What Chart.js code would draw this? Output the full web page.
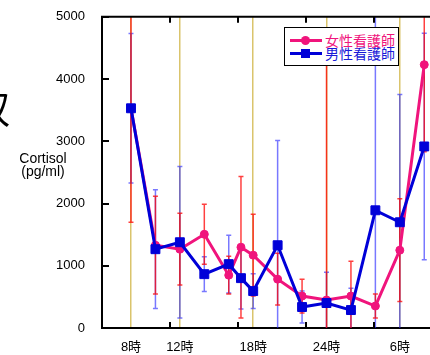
<!DOCTYPE html>
<html>
<head>
<meta charset="utf-8">
<script src="https://cdn.jsdelivr.net/npm/chart.js@4.4.0/dist/chart.umd.min.js"></script>
<style>
  body { margin: 0; background: #fff; overflow: hidden; }
  #wrap { position: relative; width: 430px; height: 355px; overflow: hidden; }
  #big { position: absolute; left: -28px; top: 88px; font: 38px/38px "Noto Sans CJK JP"; color: #000; }
  #ytitle { position: absolute; left: 13px; top: 152px; width: 60px; text-align: center;
    font: 14px/13px "Liberation Sans", Arial, sans-serif; color: #000; }
  #legend { position: absolute; left: 284px; top: 27px; width: 113px; height: 37px;
    border: 1px solid #000; background: #fff; font: 14px/13px "Noto Sans CJK JP"; }
  #legend .row { position: absolute; left: 0; height: 13px; width: 113px; }
  #legend .ln { position: absolute; left: 5px; top: 5px; width: 32px; height: 3px; }
  #legend .mk { position: absolute; left: 16px; top: 2px; width: 9px; height: 9px; }
  #legend .txt { position: absolute; left: 40px; top: 0; white-space: nowrap; }
</style>
</head>
<body>
<div id="wrap">
  <canvas id="myChart" width="430" height="355"></canvas>
  <div id="big">収</div>
  <div id="ytitle">Cortisol<br>(pg/ml)</div>
  <div id="legend">
    <div class="row" style="top:6px">
      <i class="ln" style="background:#f0147c"></i>
      <i class="mk" style="background:#f0147c;border-radius:50%"></i>
      <span class="txt" style="color:#f0147c">女性看護師</span>
    </div>
    <div class="row" style="top:19px">
      <i class="ln" style="background:#0000d8"></i>
      <i class="mk" style="background:#0000d8"></i>
      <span class="txt" style="color:#1a1ad8">男性看護師</span>
    </div>
  </div>
</div>
<script>
// sampling times (hours from 0時 of day 1; 32 = 8時 next day)
const hours = [8, 10, 12, 14, 16, 17, 18, 20, 22, 24, 26, 28, 30, 32];
const timeTicks = [8, 12, 18, 24, 30];
const timeLabels = ["8時", "12時", "18時", "24時", "6時"];
const yTicks = [0, 1000, 2000, 3000, 4000, 5000];

// 女性看護師
const femaleMean = [3530, 1330, 1266, 1506, 849, 1298, 1170, 785, 513, 449, 513, 353, 1250, 4231];
const femaleSd = [1830, 785, 577, 481, 304, 1138, 657, 416, 272, 4050, 561, 192, 825, 1400];
// 男性看護師
const maleMean = [3530, 1266, 1378, 865, 1026, 801, 593, 1330, 337, 401, 288, 1891, 1699, 2917];
const maleSd = [1200, 954, 1218, 280, 465, 497, 280, 1683, 257, 496, 350, 3300, 2051, 1819];

const pink = "#f0147c";
const blue = "#0000d8";
const gold = "rgb(218,196,108)";

// x range / inner tick spacing in hours (axis frame)
const xMin = 5.627;
const xMax = 32.47;
const frameStep = 5.565;

const errorBars = {
  id: "errorBars",
  beforeDatasetsDraw(chart) {
    const { ctx, chartArea, scales } = chart;
    const x = scales.x, y = scales.y;
    ctx.save();
    ctx.beginPath();
    ctx.rect(chartArea.left, chartArea.top, chartArea.width, chartArea.height);
    ctx.clip();
    chart.data.datasets.slice().reverse().forEach((ds) => {
      ctx.strokeStyle = ds.errColor;
      ctx.lineWidth = 1.5;
      ds.data.forEach((p, i) => {
        const px = x.getPixelForValue(p.x);
        const top = y.getPixelForValue(p.y + ds.sd[i]);
        const bot = y.getPixelForValue(p.y - ds.sd[i]);
        ctx.beginPath();
        ctx.moveTo(px, top);
        ctx.lineTo(px, bot);
        ctx.moveTo(px - 2.5, top);
        ctx.lineTo(px + 2.5, top);
        ctx.moveTo(px - 2.5, bot);
        ctx.lineTo(px + 2.5, bot);
        ctx.stroke();
      });
    });
    ctx.restore();
  },
};

// frame: top line and inward tick marks
const frame = {
  id: "frame",
  afterDraw(chart) {
    const { ctx, chartArea, scales } = chart;
    const x = scales.x, y = scales.y;
    ctx.save();
    ctx.strokeStyle = "#000";
    ctx.lineWidth = 2;
    ctx.beginPath();
    ctx.moveTo(chartArea.left - 1, chartArea.top);
    ctx.lineTo(chartArea.right, chartArea.top);
    for (let v = xMin + frameStep; v < xMax; v += frameStep) {
      const px = Math.round(x.getPixelForValue(v));
      ctx.moveTo(px, chartArea.top);
      ctx.lineTo(px, chartArea.top + 6);
      ctx.moveTo(px, chartArea.bottom);
      ctx.lineTo(px, chartArea.bottom - 6);
    }
    yTicks.forEach((v) => {
      const py = Math.round(y.getPixelForValue(v));
      ctx.moveTo(chartArea.left, py);
      ctx.lineTo(chartArea.left + 7, py);
    });
    ctx.stroke();
    ctx.restore();
  },
};

const ctx = document.getElementById("myChart");
new Chart(ctx, {
  type: "line",
  data: {
    datasets: [
      {
        label: "女性看護師",
        data: hours.map((h, i) => ({ x: h, y: femaleMean[i] })),
        sd: femaleSd,
        errColor: "rgba(255,0,0,0.75)",
        borderColor: pink,
        backgroundColor: pink,
        borderWidth: 3,
        pointStyle: "circle",
        pointRadius: 4,
        pointBorderWidth: 1,
        order: 2,
      },
      {
        label: "男性看護師",
        data: hours.map((h, i) => ({ x: h, y: maleMean[i] })),
        sd: maleSd,
        errColor: "rgba(30,30,255,0.6)",
        borderColor: blue,
        backgroundColor: blue,
        borderWidth: 3,
        pointStyle: "rect",
        pointRadius: 6.3,
        pointBorderWidth: 1,
        order: 1,
      },
    ],
  },
  options: {
    responsive: false,
    animation: false,
    layout: { autoPadding: false, padding: { top: 16, left: 0, right: 0, bottom: 0 } },
    plugins: { legend: { display: false }, tooltip: { enabled: false } },
    scales: {
      x: {
        type: "linear",
        min: xMin,
        max: xMax,
        afterBuildTicks: (s) => {
          s.ticks = timeTicks.map((v) => ({ value: v }));
        },
        afterFit: (s) => {
          s.height = 27;
        },
        ticks: {
          autoSkip: false,
          maxRotation: 0,
          padding: 12,
          color: "#000",
          font: { family: "'Liberation Sans', 'Noto Sans CJK JP'", size: 13 },
          callback: (v, i) => timeLabels[i],
        },
        grid: { color: gold, lineWidth: 1.5, drawTicks: false },
        border: { display: true, color: "#000", width: 2 },
      },
      y: {
        min: 0,
        max: 5000,
        afterBuildTicks: (s) => {
          s.ticks = yTicks.map((v) => ({ value: v }));
        },
        afterFit: (s) => {
          s.width = 102;
        },
        ticks: {
          padding: 9,
          color: "#000",
          font: { family: "'Liberation Sans'", size: 13 },
          callback: (v) => String(v),
        },
        grid: { display: false },
        border: { display: true, color: "#000", width: 2 },
      },
    },
  },
  plugins: [errorBars, frame],
});
</script>
</body>
</html>
